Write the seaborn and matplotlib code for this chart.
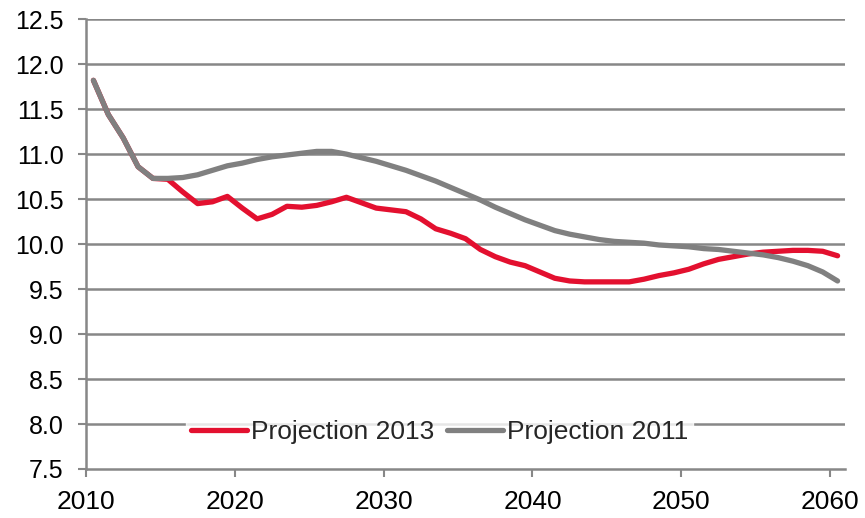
import matplotlib
matplotlib.use("Agg")
import matplotlib.pyplot as plt
import seaborn as sns
import pandas as pd
import numpy as np

years = list(range(2010, 2061))
proj_2013 = [11.82, 11.44, 11.18, 10.86, 10.73, 10.72, 10.58, 10.45, 10.47, 10.53,
             10.40, 10.28, 10.33, 10.42, 10.41, 10.43, 10.47, 10.52, 10.46, 10.40,
             10.38, 10.36, 10.28, 10.17, 10.12, 10.06, 9.94, 9.86, 9.80, 9.76,
             9.69, 9.62, 9.59, 9.58, 9.58, 9.58, 9.58, 9.61, 9.65, 9.68,
             9.72, 9.78, 9.83, 9.86, 9.89, 9.91, 9.92, 9.93, 9.93, 9.92, 9.87]
proj_2011 = [11.82, 11.44, 11.18, 10.86, 10.73, 10.73, 10.74, 10.77, 10.82, 10.87,
             10.90, 10.94, 10.97, 10.99, 11.01, 11.03, 11.03, 11.00, 10.96, 10.92,
             10.87, 10.82, 10.76, 10.70, 10.63, 10.56, 10.49, 10.41, 10.34, 10.27,
             10.21, 10.15, 10.11, 10.08, 10.05, 10.03, 10.02, 10.01, 9.99, 9.98,
             9.97, 9.95, 9.94, 9.92, 9.90, 9.88, 9.85, 9.81, 9.76, 9.69, 9.59]
series_names = ["Projection 2013", "Projection 2011"]
x_tick_labels = ["2010", "2020", "2030", "2040", "2050", "2060"]
y_ticks = [7.5, 8.0, 8.5, 9.0, 9.5, 10.0, 10.5, 11.0, 11.5, 12.0, 12.5]

df = pd.DataFrame({
    "year": years * 2,
    "value": proj_2013 + proj_2011,
    "series": [series_names[0]] * len(years) + [series_names[1]] * len(years),
})

sns.set_theme(style="white")
plt.rcParams['font.family'] = ['Liberation Sans', 'DejaVu Sans']

fig = plt.figure(figsize=(8.65, 5.18), dpi=100)
ax = fig.add_axes([0.0994, 0.0946, 0.8775, 0.8684])

grid_c = "#878787"
palette = {series_names[0]: "#E3102F", series_names[1]: "#808080"}
sns.lineplot(data=df, x="year", y="value", hue="series", palette=palette,
             linewidth=3.8, ax=ax, zorder=3)

ax.set_xlim(2009.5, 2060.5)
ax.set_ylim(7.5, 12.5)
ax.set_yticks(y_ticks)
ax.set_yticklabels([f"{v:.1f}" for v in y_ticks])
ax.set_xticks([int(l) - 0.5 for l in x_tick_labels])
ax.set_xticklabels(x_tick_labels)
ax.set_xlabel("")
ax.set_ylabel("")

for v in y_ticks[1:]:
    ax.axhline(v, color=grid_c, linewidth=1.8, zorder=1)

for s in ["top", "right"]:
    ax.spines[s].set_visible(False)
for s in ["left", "bottom"]:
    ax.spines[s].set_visible(True)
    ax.spines[s].set_color(grid_c)
    ax.spines[s].set_linewidth(1.8)

ax.tick_params(axis="both", which="major", direction="out", length=6, width=1.5,
               color=grid_c, labelcolor="black")
ax.tick_params(axis="y", left=True, labelsize=18, pad=10)
ax.tick_params(axis="x", bottom=True, labelsize=19, pad=9)

leg = ax.legend(loc="center", bbox_to_anchor=(0.466, 0.082), ncol=2, frameon=True,
                fontsize=19, handlelength=2.1, handletextpad=0.15, columnspacing=0.5,
                borderpad=0.2, fancybox=False)
leg.get_frame().set_facecolor("white")
leg.get_frame().set_edgecolor("white")
leg.set_zorder(5)

fig.savefig("out.png", dpi=100)
